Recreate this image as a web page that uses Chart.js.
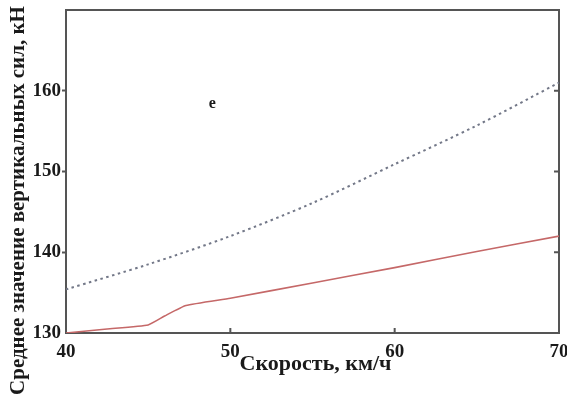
<!DOCTYPE html>
<html>
<head>
<meta charset="utf-8">
<script src="https://cdn.jsdelivr.net/npm/chart.js@4"></script>
<style>
html,body{margin:0;padding:0;background:#fff;}
#wrap{width:567px;height:403px;position:relative;}
</style>
</head>
<body>
<div id="wrap"><canvas id="c" width="567" height="403"></canvas></div>
<script>
const speedsRed = [40, 42.5, 45, 46, 47.3, 50, 55, 60, 65, 70];
const forceRed = [130, 130.5, 131, 132.1, 133.4, 134.3, 136.2, 138.1, 140.1, 142];
const speedsDotted = [40, 45, 50, 55, 60, 65, 70];
const forceDotted = [135.4, 138.5, 142.0, 146.1, 150.9, 155.7, 161.0];
const xTicks = [40, 50, 60, 70];
const yTicks = [130, 140, 150, 160];
const xTitle = 'Скорость, км/ч';
const yTitle = 'Среднее значение вертикальных сил, кН';
const panelLabel = {x: 48.9, y: 158.4, text: 'е'};

const FONT = '"Liberation Serif", "DejaVu Serif", serif';
const AXIS = '#555';

const decor = {
  id: 'decor',
  beforeDatasetsDraw(chart) {
    const ctx = chart.ctx, a = chart.chartArea;
    const xs = chart.scales.x, ys = chart.scales.y;
    ctx.save();
    ctx.strokeStyle = AXIS;
    ctx.lineWidth = 2;
    ctx.strokeRect(a.left, a.top, a.right - a.left, a.bottom - a.top);
    ctx.beginPath();
    xTicks.forEach(v => {
      if (v === xs.min || v === xs.max) return;
      const px = xs.getPixelForValue(v);
      ctx.moveTo(px, a.bottom); ctx.lineTo(px, a.bottom - 5);
    });
    yTicks.forEach(v => {
      if (v === ys.min || v === ys.max) return;
      const py = ys.getPixelForValue(v);
      ctx.moveTo(a.right, py); ctx.lineTo(a.right - 5, py);
    });
    ctx.stroke();
    ctx.restore();
  },
  afterDraw(chart) {
    const ctx = chart.ctx, a = chart.chartArea;
    const xs = chart.scales.x, ys = chart.scales.y;
    ctx.save();
    ctx.fillStyle = '#1a1a1a';
    ctx.textAlign = 'center';
    ctx.textBaseline = 'alphabetic';
    ctx.font = 'bold 22px ' + FONT;
    ctx.fillText(xTitle, (a.left + a.right) / 2 + 3, 370);
    ctx.save();
    ctx.font = 'bold 21px ' + FONT;
    ctx.translate(24, 200.5);
    ctx.rotate(-Math.PI / 2);
    ctx.fillText(yTitle, 0, 0);
    ctx.restore();
    ctx.font = 'bold 16px ' + FONT;
    ctx.fillText(panelLabel.text, xs.getPixelForValue(panelLabel.x), ys.getPixelForValue(panelLabel.y) + 4);
    ctx.restore();
  }
};

new Chart(document.getElementById('c'), {
  type: 'line',
  data: {
    datasets: [
      {
        data: speedsDotted.map((x, i) => ({x, y: forceDotted[i]})),
        borderColor: '#737888',
        borderWidth: 2,
        borderDash: [2.5, 3.5],
        pointRadius: 0,
        tension: 0.3,
        fill: false
      },
      {
        data: speedsRed.map((x, i) => ({x, y: forceRed[i]})),
        borderColor: '#c56868',
        borderWidth: 1.6,
        pointRadius: 0,
        tension: 0.15,
        fill: false
      }
    ]
  },
  options: {
    responsive: false,
    animation: false,
    events: [],
    layout: {padding: {top: 10, right: 8, left: 0, bottom: 0}},
    plugins: {legend: {display: false}, tooltip: {enabled: false}, title: {display: false}},
    scales: {
      x: {
        type: 'linear',
        min: 40, max: 70,
        afterBuildTicks(s) { s.ticks = xTicks.map(v => ({value: v})); },
        afterFit(s) { s.height = 70; s.paddingLeft = 0; s.paddingRight = 0; },
        border: {display: false},
        grid: {display: false},
        ticks: {
          color: '#1a1a1a',
          font: {family: FONT, size: 19, weight: 'bold'},
          padding: 0,
          maxRotation: 0,
          autoSkip: false
        }
      },
      y: {
        min: 130, max: 170,
        afterBuildTicks(s) { s.ticks = yTicks.map(v => ({value: v})); },
        afterFit(s) { s.width = 66; s.paddingTop = 0; s.paddingBottom = 0; },
        border: {display: false},
        grid: {
          drawOnChartArea: false,
          drawTicks: true,
          tickLength: 4,
          tickWidth: 2,
          tickColor: ctx => (ctx.tick && ctx.tick.value === 130) ? 'rgba(0,0,0,0)' : AXIS
        },
        ticks: {
          color: '#1a1a1a',
          font: {family: FONT, size: 19, weight: 'bold'},
          padding: 1
        }
      }
    }
  },
  plugins: [decor]
});
</script>
</body>
</html>
